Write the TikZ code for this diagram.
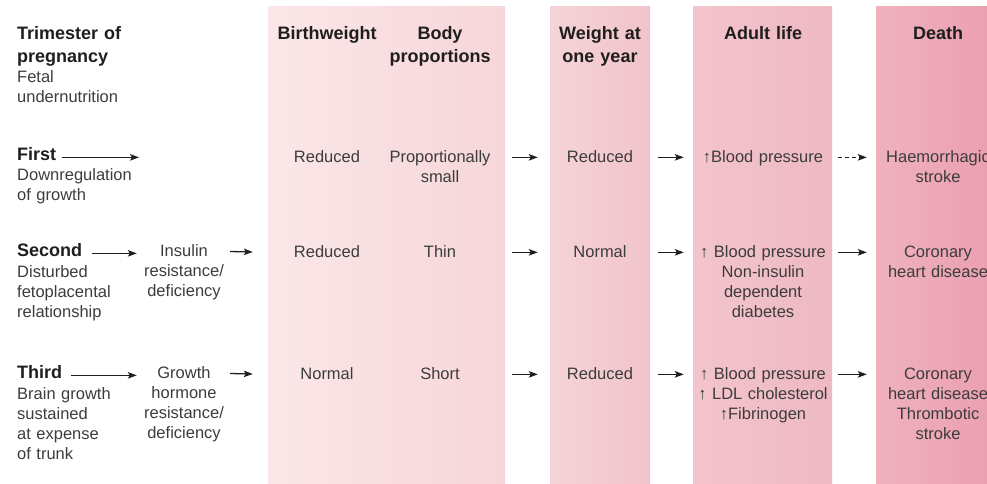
\documentclass[tikz,border=0pt]{standalone}
\usepackage{fontspec}
\setmainfont{Liberation Sans}
\usetikzlibrary{arrows.meta}

\definecolor{txt}{HTML}{3C3C3C}
\definecolor{hd}{HTML}{1E1E1E}
\definecolor{bandAl}{HTML}{FBE7E8}
\definecolor{bandAr}{HTML}{F6D6D9}
\definecolor{bandBl}{HTML}{F5D3D6}
\definecolor{bandBr}{HTML}{F1C4CA}
\definecolor{bandCl}{HTML}{F3C4CC}
\definecolor{bandCr}{HTML}{EEB9C3}
\definecolor{bandDl}{HTML}{EFB1BE}
\definecolor{bandDr}{HTML}{EBA0B1}

\begin{document}
\begin{tikzpicture}[x=1pt, y=-1pt,
        head/.style = {font=\fontsize{18}{23}\selectfont\bfseries, text=hd, inner sep=0pt, align=center, anchor=base},
        cell/.style = {font=\fontsize{16.5}{20}\selectfont, text=txt, inner sep=0pt, align=center, anchor=base},
        note/.style = {font=\fontsize{16.5}{20}\selectfont, text=txt, inner sep=0pt, align=left, text width=150pt, anchor=base west},
        tri/.style = {font=\fontsize{18}{23}\selectfont\bfseries, text=hd, inner sep=0pt, anchor=base west},
        lead/.style = {-{Stealth[length=9pt,width=6.5pt,inset=2pt]}, line width=1.3pt, draw=hd},
        lnk/.style = {lead, transform canvas={yshift=2pt}}]

    \useasboundingbox (0,0) rectangle (987,484);

    % shaded columns
    \fill[left color=bandAl, right color=bandAr] (268,7) rectangle (505,484);
    \fill[left color=bandBl, right color=bandBr] (550,7) rectangle (650,484);
    \fill[left color=bandCl, right color=bandCr] (693,7) rectangle (832,484);
    \fill[left color=bandDl, right color=bandDr] (876,7) rectangle (987,484);

    % headings
    \node[tri, text width=160pt, align=left] (tri) at (17,40) {Trimester of\\pregnancy};
    \node[note] (fetal) at (17,83) {Fetal\\undernutrition};
    \node[head, text width=120pt] (hbw) at (327,40) {Birthweight};
    \node[head, text width=130pt] (hbp) at (440,40) {Body\\proportions};
    \node[head, text width=100pt] (hwt) at (600,40) {Weight at\\one year};
    \node[head, text width=138pt] (had) at (763,40) {Adult life};
    \node[head, text width=124pt] (hde) at (938,40) {Death};

    % first trimester
    \node[tri] (first) at (17,160) {First};
    \node[note] (firstd) at (17,180) {Downregulation\\of growth};
    \coordinate (fx) at (139,0);
    \coordinate (fend) at (first.mid east -| fx);
    \node[cell, text width=120pt] (b1) at (327,162) {Reduced};
    \node[cell, text width=130pt] (p1) at (440,162) {Proportionally\\small};
    \node[cell, text width=100pt] (w1) at (600,162) {Reduced};
    \node[cell, text width=138pt] (a1) at (763,162) {↑Blood pressure};
    \node[cell, text width=124pt] (d1) at (938,162) {Haemorrhagic\\stroke};

    % second trimester
    \node[tri] (second) at (17,256) {Second};
    \node[note] (secondd) at (17,277) {Disturbed\\fetoplacental\\relationship};
    \node[cell, text width=80pt] (m2) at (184,256) {Insulin\\resistance/\\deficiency};
    \node[cell, text width=120pt] (b2) at (327,257) {Reduced};
    \node[cell, text width=130pt] (p2) at (440,257) {Thin};
    \node[cell, text width=100pt] (w2) at (600,257) {Normal};
    \node[cell, text width=138pt] (a2) at (763,257) {↑ Blood pressure\\Non-insulin\\dependent\\diabetes};
    \node[cell, text width=124pt] (d2) at (938,257) {Coronary\\heart disease};

    % third trimester
    \node[tri] (third) at (17,378) {Third};
    \node[note] (thirdd) at (17,399) {Brain growth\\sustained\\at expense\\of trunk};
    \node[cell, text width=80pt] (m3) at (184,378) {Growth\\hormone\\resistance/\\deficiency};
    \node[cell, text width=120pt] (b3) at (327,379) {Normal};
    \node[cell, text width=130pt] (p3) at (440,379) {Short};
    \node[cell, text width=100pt] (w3) at (600,379) {Reduced};
    \node[cell, text width=138pt] (a3) at (763,379) {↑ Blood pressure\\↑ LDL cholesterol\\↑Fibrinogen};
    \node[cell, text width=124pt] (d3) at (938,379) {Coronary\\heart disease\\Thrombotic\\stroke};

    \path (first.mid east) edge[lead, shorten <=6pt] (fend);
    \path (second.mid east) edge[lead, shorten <=10pt, shorten >=7pt] (m2.mid west);
    \path (third.mid east) edge[lead, shorten <=9pt, shorten >=7pt] (m3.mid west);
    \path (m2.mid east) edge[lnk, shorten <=6pt, shorten >=14pt] (b2.mid west);
    \path (m3.mid east) edge[lnk, shorten <=6pt, shorten >=14pt] (b3.mid west);

    \foreach \r in {1,2,3} {
        \path (p\r.mid east) edge[lnk, shorten <=7pt, shorten >=12pt] (w\r.mid west);
        \path (w\r.mid east) edge[lnk, shorten <=8pt, shorten >=10pt] (a\r.mid west);
    }
    \path (a1.mid east) edge[lnk, dash pattern=on 4pt off 3pt, shorten <=6pt, shorten >=9pt] (d1.mid west);
    \path (a2.mid east) edge[lnk, shorten <=6pt, shorten >=9pt] (d2.mid west);
    \path (a3.mid east) edge[lnk, shorten <=6pt, shorten >=9pt] (d3.mid west);
\end{tikzpicture}
\end{document}
